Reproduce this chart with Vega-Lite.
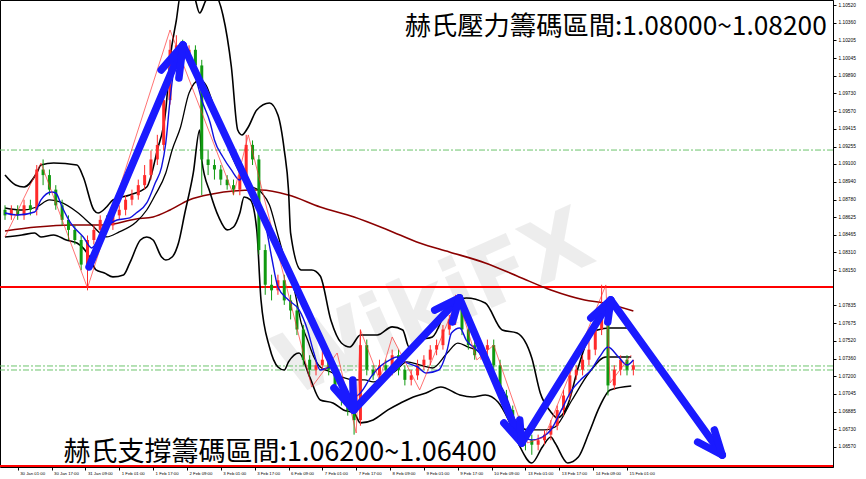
{
  "$schema": "https://vega.github.io/schema/vega-lite/v6.json",
  "width": 833,
  "height": 467,
  "autosize": {"type": "none"},
  "padding": {"left": 0, "top": 0, "right": 33, "bottom": 12},
  "background": "#ffffff",
  "config": {
    "view": {"stroke": "#000000", "strokeWidth": 1},
    "axis": {"grid": false, "title": null, "labelFont": "Liberation Sans", "labelColor": "#000000", "tickColor": "#000000", "domainColor": "#000000"}
  },
  "datasets": {
    "upper": [
      {"t":0,"p":1.09001},{"t":5,"p":1.08912},{"t":9,"p":1.08894},{"t":15,"p":1.09019},{"t":17,"p":1.0909},{"t":23,"p":1.09108},{"t":34,"p":1.0909},{"t":37,"p":1.08983},{"t":42,"p":1.08688},{"t":44,"p":1.08661},{"t":48,"p":1.08715},{"t":51,"p":1.08778},{"t":59,"p":1.08822},{"t":67,"p":1.08894},{"t":72,"p":1.09224},{"t":76,"p":1.09582},{"t":78,"p":1.10029},{"t":81,"p":1.10386},{"t":83,"p":1.1061},{"t":89,"p":1.1061},{"t":92,"p":1.10449},{"t":95,"p":1.10565},{"t":98,"p":1.10636},{"t":103,"p":1.10431},{"t":107,"p":1.09966},{"t":110,"p":1.09403},{"t":112,"p":1.09359},{"t":115,"p":1.0943},{"t":119,"p":1.09582},{"t":125,"p":1.09645},{"t":129,"p":1.09537},{"t":132,"p":1.09224},{"t":134,"p":1.08867},{"t":135,"p":1.08482},{"t":140,"p":1.08152},{"t":145,"p":1.08152},{"t":149,"p":1.08098},{"t":154,"p":1.07705},{"t":159,"p":1.07499},{"t":163,"p":1.07463},{"t":168,"p":1.07571},{"t":176,"p":1.07571},{"t":183,"p":1.07643},{"t":188,"p":1.07616},{"t":191,"p":1.07463},{"t":196,"p":1.07526},{"t":202,"p":1.07553},{"t":210,"p":1.07839},{"t":218,"p":1.07902},{"t":227,"p":1.07857},{"t":235,"p":1.07616},{"t":242,"p":1.07589},{"t":249,"p":1.07365},{"t":253,"p":1.07053},{"t":258,"p":1.06883},{"t":261,"p":1.06829},{"t":266,"p":1.06946},{"t":271,"p":1.07285},{"t":276,"p":1.07553},{"t":280,"p":1.07616},{"t":286,"p":1.07633},{"t":294,"p":1.07633}
    ],
    "middle": [
      {"t":0,"p":1.08706},{"t":8,"p":1.08688},{"t":15,"p":1.08715},{"t":21,"p":1.08778},{"t":26,"p":1.0876},{"t":34,"p":1.0867},{"t":41,"p":1.08554},{"t":48,"p":1.08447},{"t":54,"p":1.08492},{"t":62,"p":1.08581},{"t":67,"p":1.08688},{"t":71,"p":1.08822},{"t":76,"p":1.09019},{"t":79,"p":1.09224},{"t":83,"p":1.0943},{"t":87,"p":1.09734},{"t":92,"p":1.0985},{"t":95,"p":1.09805},{"t":99,"p":1.096},{"t":107,"p":1.0918},{"t":114,"p":1.08929},{"t":121,"p":1.08849},{"t":125,"p":1.08733},{"t":129,"p":1.08465},{"t":133,"p":1.08197},{"t":137,"p":1.07955},{"t":140,"p":1.07678},{"t":143,"p":1.07526},{"t":146,"p":1.07374},{"t":149,"p":1.07285},{"t":154,"p":1.0724},{"t":159,"p":1.07196},{"t":165,"p":1.07169},{"t":170,"p":1.07169},{"t":174,"p":1.07151},{"t":179,"p":1.07196},{"t":184,"p":1.0724},{"t":190,"p":1.0733},{"t":196,"p":1.07303},{"t":202,"p":1.07276},{"t":209,"p":1.0741},{"t":214,"p":1.07499},{"t":219,"p":1.07463},{"t":225,"p":1.0741},{"t":232,"p":1.07196},{"t":240,"p":1.06839},{"t":247,"p":1.06722},{"t":255,"p":1.06722},{"t":260,"p":1.06749},{"t":268,"p":1.0699},{"t":276,"p":1.07231},{"t":284,"p":1.07374},{"t":296,"p":1.07374}
    ],
    "lower": [
      {"t":0,"p":1.08447},{"t":8,"p":1.08465},{"t":14,"p":1.08482},{"t":17,"p":1.08447},{"t":23,"p":1.08465},{"t":29,"p":1.0842},{"t":34,"p":1.08393},{"t":40,"p":1.08268},{"t":43,"p":1.08152},{"t":47,"p":1.08125},{"t":51,"p":1.0809},{"t":56,"p":1.08107},{"t":59,"p":1.08215},{"t":64,"p":1.0842},{"t":67,"p":1.08447},{"t":70,"p":1.0842},{"t":74,"p":1.08268},{"t":76,"p":1.08241},{"t":79,"p":1.08268},{"t":82,"p":1.08393},{"t":85,"p":1.08661},{"t":89,"p":1.09019},{"t":92,"p":1.09403},{"t":93,"p":1.09135},{"t":97,"p":1.0884},{"t":101,"p":1.08626},{"t":105,"p":1.0851},{"t":108,"p":1.08536},{"t":111,"p":1.08661},{"t":113,"p":1.08804},{"t":116,"p":1.08778},{"t":119,"p":1.0851},{"t":121,"p":1.07884},{"t":125,"p":1.07463},{"t":129,"p":1.07285},{"t":132,"p":1.07258},{"t":134,"p":1.0733},{"t":139,"p":1.0741},{"t":144,"p":1.07196},{"t":149,"p":1.0699},{"t":155,"p":1.06963},{"t":160,"p":1.06901},{"t":165,"p":1.06874},{"t":168,"p":1.06785},{"t":174,"p":1.06812},{"t":181,"p":1.06901},{"t":187,"p":1.06963},{"t":193,"p":1.07017},{"t":199,"p":1.07053},{"t":206,"p":1.07106},{"t":215,"p":1.07035},{"t":221,"p":1.07017},{"t":227,"p":1.07035},{"t":233,"p":1.06972},{"t":238,"p":1.06812},{"t":243,"p":1.06588},{"t":249,"p":1.06427},{"t":254,"p":1.0657},{"t":258,"p":1.06659},{"t":260,"p":1.06606},{"t":266,"p":1.06427},{"t":271,"p":1.0648},{"t":276,"p":1.06695},{"t":281,"p":1.06928},{"t":286,"p":1.0708},{"t":296,"p":1.07115}
    ],
    "ma": [
      {"t":0,"p":1.08661},{"t":6,"p":1.08643},{"t":14,"p":1.0867},{"t":17,"p":1.08778},{"t":22,"p":1.08849},{"t":24,"p":1.0884},{"t":27,"p":1.08715},{"t":31,"p":1.08572},{"t":37,"p":1.08447},{"t":41,"p":1.08349},{"t":44,"p":1.0842},{"t":48,"p":1.08536},{"t":53,"p":1.08599},{"t":59,"p":1.08617},{"t":62,"p":1.08661},{"t":67,"p":1.08751},{"t":71,"p":1.08929},{"t":74,"p":1.09072},{"t":76,"p":1.09287},{"t":78,"p":1.09671},{"t":80,"p":1.09966},{"t":83,"p":1.10118},{"t":84,"p":1.10145},{"t":85,"p":1.10091},{"t":90,"p":1.09877},{"t":93,"p":1.09671},{"t":97,"p":1.09466},{"t":99,"p":1.09314},{"t":103,"p":1.09162},{"t":107,"p":1.09046},{"t":111,"p":1.08956},{"t":113,"p":1.09019},{"t":116,"p":1.08894},{"t":120,"p":1.08751},{"t":123,"p":1.08572},{"t":126,"p":1.08268},{"t":129,"p":1.08},{"t":134,"p":1.07884},{"t":139,"p":1.07795},{"t":143,"p":1.07616},{"t":146,"p":1.0741},{"t":149,"p":1.07258},{"t":154,"p":1.07285},{"t":159,"p":1.07169},{"t":162,"p":1.07053},{"t":165,"p":1.07017},{"t":168,"p":1.07053},{"t":173,"p":1.07196},{"t":177,"p":1.07285},{"t":182,"p":1.07348},{"t":185,"p":1.07374},{"t":190,"p":1.07321},{"t":195,"p":1.07285},{"t":199,"p":1.07231},{"t":205,"p":1.07258},{"t":209,"p":1.07437},{"t":211,"p":1.07589},{"t":215,"p":1.07633},{"t":218,"p":1.07526},{"t":223,"p":1.07437},{"t":227,"p":1.07348},{"t":232,"p":1.07196},{"t":237,"p":1.07017},{"t":241,"p":1.06812},{"t":244,"p":1.06695},{"t":249,"p":1.06633},{"t":254,"p":1.06659},{"t":258,"p":1.06722},{"t":263,"p":1.06901},{"t":268,"p":1.0708},{"t":272,"p":1.07169},{"t":277,"p":1.07258},{"t":281,"p":1.07374},{"t":285,"p":1.07463},{"t":290,"p":1.07374},{"t":294,"p":1.07303},{"t":297,"p":1.07348}
    ],
    "ma200": [
      {"t":0,"p":1.08501},{"t":15,"p":1.08536},{"t":31,"p":1.08554},{"t":47,"p":1.08554},{"t":62,"p":1.08608},{"t":70,"p":1.08626},{"t":78,"p":1.08688},{"t":87,"p":1.08778},{"t":98,"p":1.08831},{"t":108,"p":1.08858},{"t":121,"p":1.08867},{"t":134,"p":1.08822},{"t":149,"p":1.08715},{"t":165,"p":1.08626},{"t":181,"p":1.0851},{"t":196,"p":1.08393},{"t":210,"p":1.08313},{"t":227,"p":1.08215},{"t":243,"p":1.0809},{"t":258,"p":1.07973},{"t":274,"p":1.07884},{"t":283,"p":1.07857},{"t":297,"p":1.07786}
    ],
    "zigzag": [
      {"t":0,"p":1.08447},{"t":17,"p":1.09108},{"t":39,"p":1.07991},{"t":78,"p":1.10297},{"t":108,"p":1.08822},{"t":115,"p":1.09359},{"t":145,"p":1.07106},{"t":157,"p":1.0741},{"t":166,"p":1.06695},{"t":168,"p":1.07616},{"t":177,"p":1.07169},{"t":183,"p":1.07553},{"t":196,"p":1.0708},{"t":214,"p":1.07902},{"t":223,"p":1.07348},{"t":231,"p":1.07481},{"t":247,"p":1.06606},{"t":255,"p":1.06659},{"t":284,"p":1.08018},{"t":286,"p":1.07142},{"t":296,"p":1.07392}
    ],
    "candles": [
      {"t":0,"o":1.0869,"h":1.0873,"l":1.086,"c":1.0864},
      {"t":3,"o":1.0864,"h":1.0873,"l":1.086,"c":1.0869},
      {"t":6,"o":1.0869,"h":1.0873,"l":1.086,"c":1.0864},
      {"t":9,"o":1.0864,"h":1.0878,"l":1.086,"c":1.0873},
      {"t":12,"o":1.0873,"h":1.0878,"l":1.0864,"c":1.0869},
      {"t":15,"o":1.0869,"h":1.0909,"l":1.0864,"c":1.0905},
      {"t":18,"o":1.0905,"h":1.0914,"l":1.0891,"c":1.09},
      {"t":21,"o":1.09,"h":1.0905,"l":1.0882,"c":1.0887},
      {"t":24,"o":1.0887,"h":1.0891,"l":1.0869,"c":1.0873},
      {"t":27,"o":1.0873,"h":1.0878,"l":1.0855,"c":1.086},
      {"t":30,"o":1.086,"h":1.0864,"l":1.0842,"c":1.0851},
      {"t":33,"o":1.0851,"h":1.0855,"l":1.0838,"c":1.0842},
      {"t":36,"o":1.0842,"h":1.0846,"l":1.0815,"c":1.082},
      {"t":39,"o":1.082,"h":1.0846,"l":1.0797,"c":1.0842},
      {"t":42,"o":1.0842,"h":1.0855,"l":1.0838,"c":1.0851},
      {"t":45,"o":1.0851,"h":1.0864,"l":1.0846,"c":1.086},
      {"t":48,"o":1.086,"h":1.0864,"l":1.0851,"c":1.0855},
      {"t":51,"o":1.0855,"h":1.0869,"l":1.0851,"c":1.0864},
      {"t":54,"o":1.0864,"h":1.0873,"l":1.086,"c":1.0869},
      {"t":57,"o":1.0869,"h":1.0882,"l":1.0864,"c":1.0878},
      {"t":60,"o":1.0878,"h":1.0887,"l":1.0873,"c":1.0882},
      {"t":63,"o":1.0882,"h":1.0896,"l":1.0878,"c":1.0891},
      {"t":66,"o":1.0891,"h":1.0909,"l":1.0887,"c":1.09},
      {"t":69,"o":1.09,"h":1.0922,"l":1.0896,"c":1.0914},
      {"t":72,"o":1.0914,"h":1.0936,"l":1.0909,"c":1.0927},
      {"t":75,"o":1.0927,"h":1.0972,"l":1.0922,"c":1.0967},
      {"t":78,"o":1.0967,"h":1.1021,"l":1.0963,"c":1.1012},
      {"t":81,"o":1.1012,"h":1.1025,"l":1.1007,"c":1.1016},
      {"t":84,"o":1.1016,"h":1.1021,"l":1.1003,"c":1.1007},
      {"t":87,"o":1.1007,"h":1.1016,"l":1.0998,"c":1.1012},
      {"t":90,"o":1.1012,"h":1.1016,"l":1.0994,"c":1.0998},
      {"t":93,"o":1.0998,"h":1.1003,"l":1.0882,"c":1.0914},
      {"t":96,"o":1.0914,"h":1.0922,"l":1.09,"c":1.0909},
      {"t":99,"o":1.0909,"h":1.0914,"l":1.0896,"c":1.0905},
      {"t":102,"o":1.0905,"h":1.0909,"l":1.0891,"c":1.0896},
      {"t":105,"o":1.0896,"h":1.09,"l":1.0887,"c":1.0891},
      {"t":108,"o":1.0891,"h":1.0896,"l":1.0882,"c":1.0887},
      {"t":111,"o":1.0887,"h":1.0905,"l":1.0882,"c":1.09},
      {"t":114,"o":1.09,"h":1.0936,"l":1.0896,"c":1.0927},
      {"t":117,"o":1.0927,"h":1.0931,"l":1.0909,"c":1.0914},
      {"t":120,"o":1.0914,"h":1.0918,"l":1.0829,"c":1.0833},
      {"t":123,"o":1.0833,"h":1.0838,"l":1.0793,"c":1.0802},
      {"t":126,"o":1.0802,"h":1.0811,"l":1.0788,"c":1.0797},
      {"t":129,"o":1.0797,"h":1.0811,"l":1.0793,"c":1.0806},
      {"t":132,"o":1.0806,"h":1.0811,"l":1.0784,"c":1.0788},
      {"t":135,"o":1.0788,"h":1.0793,"l":1.0771,"c":1.0779},
      {"t":138,"o":1.0779,"h":1.0784,"l":1.0757,"c":1.0762},
      {"t":141,"o":1.0762,"h":1.0766,"l":1.073,"c":1.0735},
      {"t":144,"o":1.0735,"h":1.0739,"l":1.0721,"c":1.0726},
      {"t":147,"o":1.0726,"h":1.0735,"l":1.0721,"c":1.073},
      {"t":150,"o":1.073,"h":1.0744,"l":1.0726,"c":1.0735},
      {"t":153,"o":1.0735,"h":1.0739,"l":1.0721,"c":1.0726},
      {"t":156,"o":1.0726,"h":1.073,"l":1.0708,"c":1.0712},
      {"t":159,"o":1.0712,"h":1.0717,"l":1.0694,"c":1.0699},
      {"t":162,"o":1.0699,"h":1.0703,"l":1.0685,"c":1.069},
      {"t":165,"o":1.069,"h":1.0694,"l":1.0668,"c":1.0681},
      {"t":168,"o":1.0681,"h":1.0762,"l":1.0676,"c":1.0748},
      {"t":171,"o":1.0748,"h":1.0753,"l":1.0721,"c":1.0726},
      {"t":174,"o":1.0726,"h":1.073,"l":1.0717,"c":1.0721},
      {"t":177,"o":1.0721,"h":1.0735,"l":1.0717,"c":1.073},
      {"t":180,"o":1.073,"h":1.0735,"l":1.0721,"c":1.0726},
      {"t":183,"o":1.0726,"h":1.0744,"l":1.0721,"c":1.0739},
      {"t":186,"o":1.0739,"h":1.0744,"l":1.0721,"c":1.0726},
      {"t":189,"o":1.0726,"h":1.073,"l":1.0712,"c":1.0717},
      {"t":192,"o":1.0717,"h":1.0726,"l":1.0712,"c":1.0721},
      {"t":195,"o":1.0721,"h":1.0735,"l":1.0717,"c":1.073},
      {"t":198,"o":1.073,"h":1.0739,"l":1.0726,"c":1.0735},
      {"t":201,"o":1.0735,"h":1.0748,"l":1.073,"c":1.0744},
      {"t":204,"o":1.0744,"h":1.0753,"l":1.0739,"c":1.0748},
      {"t":207,"o":1.0748,"h":1.0766,"l":1.0744,"c":1.0762},
      {"t":210,"o":1.0762,"h":1.0775,"l":1.0757,"c":1.0771},
      {"t":213,"o":1.0771,"h":1.0793,"l":1.0766,"c":1.0788},
      {"t":216,"o":1.0788,"h":1.0793,"l":1.0757,"c":1.0762},
      {"t":219,"o":1.0762,"h":1.0766,"l":1.0744,"c":1.0748},
      {"t":222,"o":1.0748,"h":1.0753,"l":1.0735,"c":1.0739},
      {"t":225,"o":1.0739,"h":1.0748,"l":1.0735,"c":1.0744},
      {"t":228,"o":1.0744,"h":1.0753,"l":1.0739,"c":1.0748},
      {"t":231,"o":1.0748,"h":1.0753,"l":1.0726,"c":1.073},
      {"t":234,"o":1.073,"h":1.0735,"l":1.0699,"c":1.0703},
      {"t":237,"o":1.0703,"h":1.0708,"l":1.0685,"c":1.069},
      {"t":240,"o":1.069,"h":1.0694,"l":1.0676,"c":1.0681},
      {"t":243,"o":1.0681,"h":1.0685,"l":1.0663,"c":1.0668},
      {"t":246,"o":1.0668,"h":1.0672,"l":1.0654,"c":1.0663},
      {"t":249,"o":1.0663,"h":1.0668,"l":1.065,"c":1.0659},
      {"t":252,"o":1.0659,"h":1.0668,"l":1.0654,"c":1.0663},
      {"t":255,"o":1.0663,"h":1.0672,"l":1.0659,"c":1.0668},
      {"t":258,"o":1.0668,"h":1.0681,"l":1.0663,"c":1.0676},
      {"t":261,"o":1.0676,"h":1.0694,"l":1.0672,"c":1.069},
      {"t":264,"o":1.069,"h":1.0708,"l":1.0685,"c":1.0703},
      {"t":267,"o":1.0703,"h":1.0726,"l":1.0699,"c":1.0721},
      {"t":270,"o":1.0721,"h":1.073,"l":1.0717,"c":1.0726},
      {"t":273,"o":1.0726,"h":1.0739,"l":1.0721,"c":1.0735},
      {"t":276,"o":1.0735,"h":1.0753,"l":1.073,"c":1.0744},
      {"t":279,"o":1.0744,"h":1.0766,"l":1.0739,"c":1.0762},
      {"t":282,"o":1.0762,"h":1.0802,"l":1.0757,"c":1.0779},
      {"t":285,"o":1.0779,"h":1.0784,"l":1.0703,"c":1.0712},
      {"t":288,"o":1.0712,"h":1.073,"l":1.0708,"c":1.0726},
      {"t":291,"o":1.0726,"h":1.0739,"l":1.0721,"c":1.0735},
      {"t":294,"o":1.0735,"h":1.0739,"l":1.0721,"c":1.0726},
      {"t":297,"o":1.0726,"h":1.0735,"l":1.0721,"c":1.073}
    ],
    "arrows": [
      {"seg":"m","k":0,"t":39.7,"p":1.08179},
      {"seg":"m","k":1,"t":84.1,"p":1.10163},
      {"seg":"m","k":2,"t":164.8,"p":1.069},
      {"seg":"m","k":3,"t":214.8,"p":1.07902},
      {"seg":"m","k":4,"t":244.2,"p":1.06605},
      {"seg":"m","k":5,"t":286.3,"p":1.07884},
      {"seg":"m","k":6,"t":339.0,"p":1.06498},
      {"seg":"a1l","k":0,"t":73.8,"p":1.09939},{"seg":"a1l","k":1,"t":84.1,"p":1.10163},
      {"seg":"a1r","k":0,"t":82.2,"p":1.09868},{"seg":"a1r","k":1,"t":84.1,"p":1.10163},
      {"seg":"a2l","k":0,"t":155.5,"p":1.07097},{"seg":"a2l","k":1,"t":164.8,"p":1.069},
      {"seg":"a2r","k":0,"t":164.4,"p":1.07169},{"seg":"a2r","k":1,"t":164.8,"p":1.069},
      {"seg":"a3l","k":0,"t":203.1,"p":1.07794},{"seg":"a3l","k":1,"t":214.8,"p":1.07902},
      {"seg":"a3r","k":0,"t":211.5,"p":1.07687},{"seg":"a3r","k":1,"t":214.8,"p":1.07902},
      {"seg":"a4l","k":0,"t":235.8,"p":1.06784},{"seg":"a4l","k":1,"t":244.2,"p":1.06605},
      {"seg":"a4r","k":0,"t":243.3,"p":1.06811},{"seg":"a4r","k":1,"t":244.2,"p":1.06605},
      {"seg":"a5l","k":0,"t":276.9,"p":1.07723},{"seg":"a5l","k":1,"t":286.3,"p":1.07884},
      {"seg":"a5r","k":0,"t":284.9,"p":1.07687},{"seg":"a5r","k":1,"t":286.3,"p":1.07884},
      {"seg":"a6l","k":0,"t":327.4,"p":1.06614},{"seg":"a6l","k":1,"t":339.0,"p":1.06498},
      {"seg":"a6r","k":0,"t":335.3,"p":1.06722},{"seg":"a6r","k":1,"t":339.0,"p":1.06498}
    ],
    "greenLevels": [{"p":1.09224},{"p":1.07294},{"p":1.07258}],
    "redLevels": [{"p":1.08},{"p":1.064}],
    "tags": [{"p":1.08,"txt":"1.08000"},{"p":1.064,"txt":"1.06400"},{"p":1.07284,"txt":"1.07284"}]
  },
  "encoding": {
    "x": {"field": "t", "type": "quantitative", "scale": {"domain": [0, 389], "nice": false, "zero": false},
      "axis": {"orient": "bottom", "domain": false, "values": [6,22,38,54,70,86,102,118,134,150,166,182,198,214,230,246,262,278,294], "tickSize": 3, "labelAlign": "left", "labelBaseline": "top", "labelPadding": 1, "labelFontSize": 4.3, "labelOffset": 2, "labelOverlap": false, "labelFlush": false,
        "labelExpr": "['30 Jan 01:00','30 Jan 17:00','31 Jan 09:00','1 Feb 01:00','1 Feb 17:00','2 Feb 09:00','3 Feb 01:00','3 Feb 17:00','6 Feb 09:00','7 Feb 01:00','7 Feb 17:00','8 Feb 09:00','9 Feb 01:00','9 Feb 17:00','10 Feb 09:00','13 Feb 01:00','13 Feb 17:00','14 Feb 09:00','15 Feb 01:00'][(datum.value-6)/16]"}},
    "y": {"field": "p", "type": "quantitative", "scale": {"domain": [1.06391, 1.10565], "nice": false, "zero": false},
      "axis": {"orient": "right", "values": [1.1052,1.1036,1.10205,1.10045,1.0989,1.0973,1.0957,1.09415,1.09255,1.091,1.0894,1.0878,1.08625,1.08465,1.0831,1.0815,1.07835,1.07675,1.0752,1.0736,1.072,1.07045,1.06885,1.0673,1.0657], "format": ".5f", "tickSize": 3, "labelPadding": 2, "labelFontSize": 4.8, "labelOverlap": false, "labelFlush": false}}
  },
  "layer": [
    {"data": {"values": [{"t": 203, "p": 1.0784, "txt": "WikiFX"}]},
     "mark": {"type": "text", "font": "DejaVu Sans", "fontWeight": "bold", "fontSize": 86, "angle": -24, "color": "#e2e2e2", "opacity": 0.6, "align": "center", "baseline": "middle"},
     "encoding": {"text": {"field": "txt"}}},
    {"data": {"name": "greenLevels"},
     "mark": {"type": "rule", "color": "#6cc46c", "strokeWidth": 1, "strokeDash": [6, 2, 2, 2]},
     "encoding": {"x": null}},
    {"data": {"name": "redLevels"},
     "mark": {"type": "rule", "color": "#ff0000", "strokeWidth": 2},
     "encoding": {"x": null}},
    {"data": {"name": "ma200"},
     "mark": {"type": "line", "color": "#8b0000", "strokeWidth": 1.6, "interpolate": "monotone"}, "encoding": {}},
    {"data": {"name": "upper"},
     "mark": {"type": "line", "color": "#000000", "strokeWidth": 1.6, "interpolate": "monotone", "clip": true}, "encoding": {}},
    {"data": {"name": "middle"},
     "mark": {"type": "line", "color": "#000000", "strokeWidth": 1.3, "interpolate": "monotone"}, "encoding": {}},
    {"data": {"name": "lower"},
     "mark": {"type": "line", "color": "#000000", "strokeWidth": 1.6, "interpolate": "monotone"}, "encoding": {}},
    {"data": {"name": "candles"},
     "mark": {"type": "rule", "strokeWidth": 1},
     "encoding": {"y": {"field": "l", "type": "quantitative"}, "y2": {"field": "h"},
       "color": {"condition": {"test": "datum.c >= datum.o", "value": "#ff2a2a"}, "value": "#109a10"}}},
    {"data": {"name": "candles"},
     "mark": {"type": "bar", "size": 3},
     "encoding": {"y": {"field": "o", "type": "quantitative"}, "y2": {"field": "c"},
       "color": {"condition": {"test": "datum.c >= datum.o", "value": "#ff2a2a"}, "value": "#109a10"}}},
    {"data": {"name": "ma"},
     "mark": {"type": "line", "color": "#1010e0", "strokeWidth": 1.4, "interpolate": "monotone"}, "encoding": {}},
    {"data": {"name": "zigzag"},
     "mark": {"type": "line", "color": "#ff3030", "strokeWidth": 0.8, "opacity": 0.85}, "encoding": {}},
    {"data": {"name": "arrows"},
     "mark": {"type": "line", "color": "#1a1aff", "strokeWidth": 7.5, "strokeCap": "round", "strokeJoin": "round"},
     "encoding": {"detail": {"field": "seg"}, "order": {"field": "k", "type": "quantitative"}}},
    {"data": {"values": [{"t": 388.4, "p": 1.10256, "txt": "赫氏壓力籌碼區間:1.08000~1.08200"}]},
     "mark": {"type": "text", "font": "Noto Sans CJK TC", "fontSize": 26.3, "align": "right", "baseline": "alphabetic", "color": "#000000"},
     "encoding": {"text": {"field": "txt"}}},
    {"data": {"values": [{"t": 27.6, "p": 1.06445, "txt": "赫氏支撐籌碼區間:1.06200~1.06400"}]},
     "mark": {"type": "text", "font": "Noto Sans CJK TC", "fontSize": 27, "align": "left", "baseline": "alphabetic", "color": "#000000"},
     "encoding": {"text": {"field": "txt"}}},
    {"data": {"name": "tags"},
     "mark": {"type": "tick", "orient": "horizontal", "size": 27, "thickness": 8, "opacity": 1},
     "encoding": {"x": {"datum": 396.2, "type": "quantitative"},
       "color": {"condition": {"test": "datum.p == 1.07284", "value": "#000000"}, "value": "#ff0000"}}},
    {"data": {"name": "tags"},
     "mark": {"type": "text", "font": "Liberation Sans", "fontSize": 4.8, "align": "left", "baseline": "middle", "color": "#ffffff"},
     "encoding": {"x": {"datum": 391.2, "type": "quantitative"}, "text": {"field": "txt"}}}
  ]
}
